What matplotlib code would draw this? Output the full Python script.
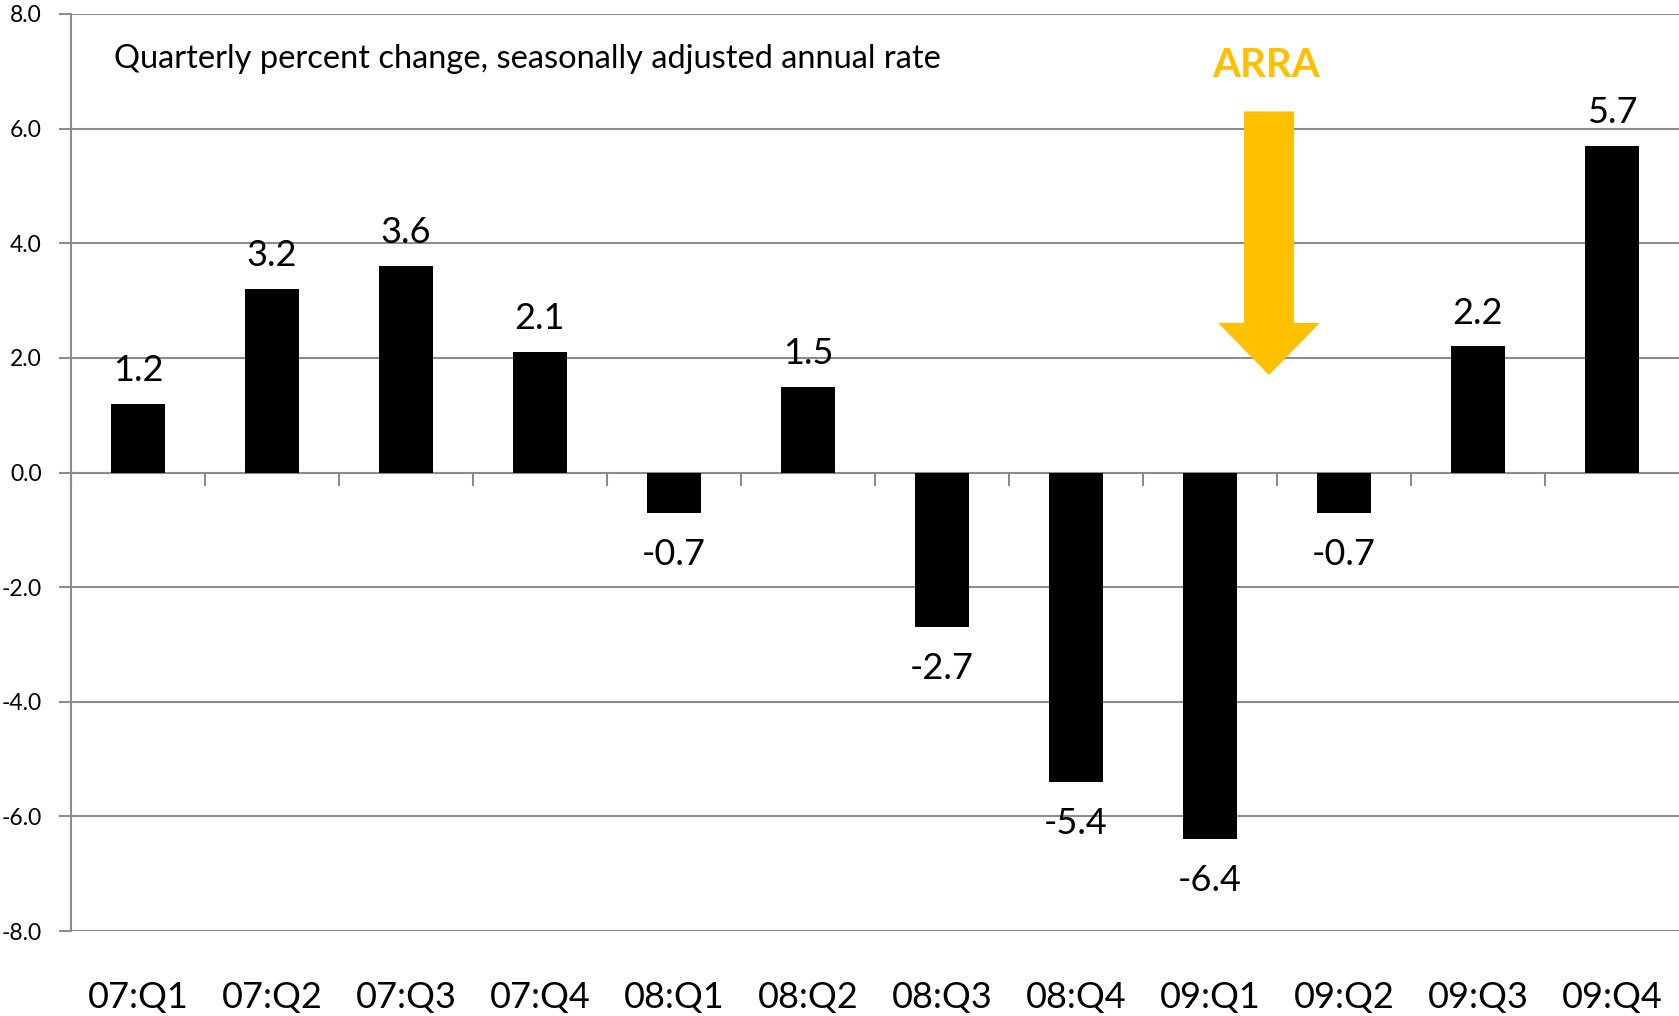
import matplotlib
matplotlib.use("Agg")
import matplotlib.pyplot as plt
from matplotlib.patches import FancyArrow

plt.rcParams['font.family'] = ['Lato', 'DejaVu Sans']

quarters = ["07:Q1", "07:Q2", "07:Q3", "07:Q4", "08:Q1", "08:Q2",
            "08:Q3", "08:Q4", "09:Q1", "09:Q2", "09:Q3", "09:Q4"]
values = [1.2, 3.2, 3.6, 2.1, -0.7, 1.5, -2.7, -5.4, -6.4, -0.7, 2.2, 5.7]
y_ticks = [-8, -6, -4, -2, 0, 2, 4, 6, 8]

W, H = 1679, 1016
fig = plt.figure(figsize=(W / 100, H / 100), dpi=100)
ax = fig.add_axes([71 / W, (H - 931) / H, 1608 / W, 917 / H])

grid_c = '#8c8c8c'
x = list(range(len(quarters)))
ax.bar(x, values, width=0.4, color='black', zorder=3)

ax.set_xlim(-0.5, len(quarters) - 0.5)
ax.set_ylim(-8, 8)
ax.set_yticks(y_ticks)
ax.set_yticklabels([f"{v:.1f}" for v in y_ticks], fontsize=16.5)
ax.yaxis.grid(True, color=grid_c, linewidth=1.5, zorder=0)
ax.tick_params(axis='y', length=9, width=1.5, color=grid_c, pad=12)

for s in ['top', 'right']:
    ax.spines[s].set_visible(False)
ax.spines['left'].set_color(grid_c)
ax.spines['left'].set_linewidth(1.5)
ax.spines['bottom'].set_position(('data', 0))
ax.spines['bottom'].set_color(grid_c)
ax.spines['bottom'].set_linewidth(1.5)
ax.set_xticks([i - 0.5 for i in x])
ax.set_xticklabels([])
ax.tick_params(axis='x', length=9, width=1.5, color=grid_c, direction='out')

sec = ax.secondary_xaxis('bottom')
sec.set_xticks(x)
sec.set_xticklabels(quarters, fontsize=26)
sec.tick_params(length=0, pad=36)
sec.spines['bottom'].set_visible(False)

for xi, v in zip(x, values):
    off = 24 if v > 0 else -30
    ax.annotate(f"{v:.1f}", (xi, v), xytext=(0, off), textcoords='offset points',
                ha='center', va='center', fontsize=26, zorder=4)

ax.text(0.027, 0.951, "Quarterly percent change, seasonally adjusted annual rate",
        transform=ax.transAxes, fontsize=23.5, ha='left', va='center')

arra_c = '#FFC000'
ax.text(8.42, 7.1, "ARRA", color=arra_c, fontsize=29, fontweight='bold',
        ha='center', va='center')
ax.add_patch(FancyArrow(8.44, 6.3, 0, 1.7 - 6.3, width=0.373,
                        head_width=0.76, head_length=0.91,
                        length_includes_head=True, color=arra_c, zorder=5,
                        linewidth=0))

fig.savefig("out.png", dpi=100)
